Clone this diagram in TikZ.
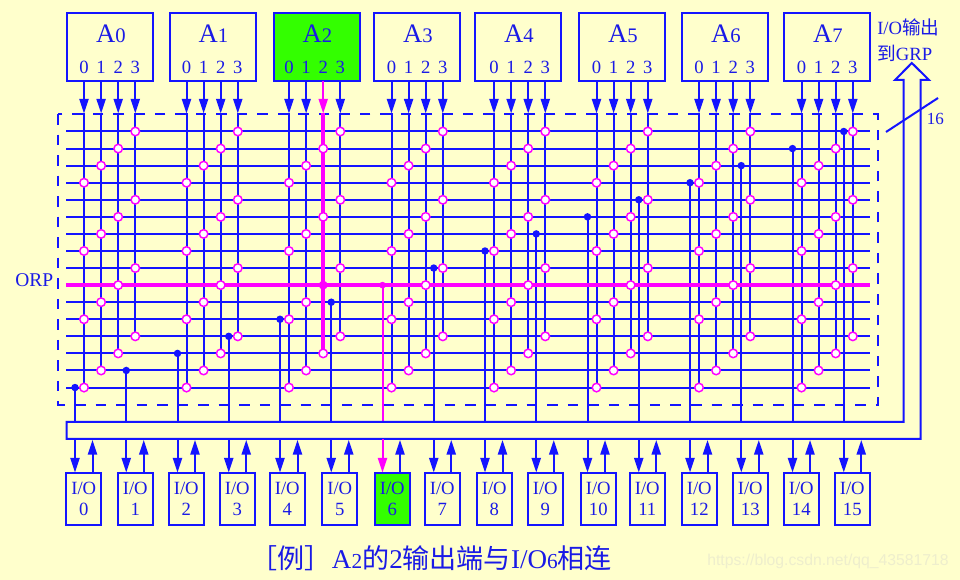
\documentclass[tikz,border=0pt]{standalone}
\usepackage{fontspec}
\setmainfont{Liberation Serif}
\newfontfamily\cjkfont{Noto Sans CJK SC}
\newfontfamily\markfont{Liberation Sans}
\usetikzlibrary{arrows.meta}
\pgfdeclarelayer{wires}
\pgfsetlayers{wires,main}
\definecolor{paper}{HTML}{FFFFCC}
\definecolor{wireblue}{HTML}{1414FF}
\definecolor{textblue}{HTML}{1A1AE6}
\definecolor{hot}{HTML}{FF00FF}
\definecolor{litgreen}{HTML}{33FF00}
\definecolor{markgrey}{HTML}{EEEECD}
\newcommand{\bigdig}[1]{{\fontsize{15.5}{17}\selectfont #1}}
\newcommand{\capdig}[1]{{\fontsize{16}{18}\selectfont #1}}
\tikzset{
  wire/.style={line width=1.5pt, color=wireblue},
  drop/.style={line width=1.5pt, color=wireblue},
  hotwire/.style={line width=3pt, color=hot},
  pin/.style={-{Triangle[length=11pt,width=6.8pt]}, line width=1.5pt, color=wireblue},
  abox/.style={draw=wireblue, line width=1.5pt, inner sep=0pt, minimum width=64.5pt, minimum height=51pt},
  iobox/.style={draw=wireblue, line width=1.5pt, inner sep=0pt, minimum width=25.9pt, minimum height=39pt,
    align=center, text=textblue, font=\fontsize{14}{15.5}\selectfont},
  label/.style={anchor=base, inner sep=0pt, text=textblue},
  fuse/.style={circle, draw=hot, fill=white, line width=1.1pt, inner sep=0pt, minimum size=6.4pt},
  tap/.style={circle, fill=wireblue, inner sep=0pt, minimum size=5.6pt},
  box2/.style={fill=litgreen},
  wire22/.style={hotwire},
  pin22/.style={color=hot},
  c222/.style={fill=hot, minimum size=5.5pt},
  iob6/.style={fill=litgreen},
  tap9/.style={fill=hot, minimum size=5pt},
  drop9/.style={color=hot},
  outpin6/.style={color=hot}
}
\begin{document}
\begin{tikzpicture}[x=0.75pt, y=-0.75pt]
\begin{pgfonlayer}{wires}
\fill[paper] (0,0) rectangle (960,580);
\draw[wire, dash pattern=on 7.9pt off 7.5pt] (58,114) rectangle (878,405);
\foreach \row in {0,...,15} {
  \pgfmathsetmacro\ry{131.5+17.07*\row}
  \coordinate (rl\row) at (66,\ry);
  \coordinate (rr\row) at (870,\ry);
  \draw[wire] (rl\row) -- (rr\row);
}
\end{pgfonlayer}

\foreach \grp/\bx in {0/67,1/169.5,2/273.5,3/374,4/475,5/579,6/682,7/784} {
  \pgfmathsetmacro\cx{\bx+44}
  \pgfmathsetmacro\bc{\bx+43}
  \node[abox, box\grp/.try] (A\grp) at (\bc,46.7) {};
  \node[label, font=\fontsize{20}{22}\selectfont] (name\grp) at (\cx,43) {A\bigdig{\grp}};
  \foreach \out in {0,...,3} {
    \pgfmathsetmacro\ox{84+102.5*\grp+17.1*\out}
    \coordinate (p\grp\out) at (\ox,81);
    \coordinate (t\grp\out) at (\ox,113.5);
    \node[label, font=\fontsize{14}{16}\selectfont] (n\grp\out) at (\ox,74) {\out};
    \foreach \k in {0,...,3} {
      \pgfmathtruncatemacro\row{3-\out+4*\k}
      \pgfmathsetmacro\ry{131.5+17.07*\row}
      \node[fuse, c\grp\out\k/.try] (c\grp\out\k) at (\ox,\ry) {};
    }
    \begin{pgfonlayer}{wires}
      \draw[wire, wire\grp\out/.try] (t\grp\out) -- (c\grp\out3.center);
    \end{pgfonlayer}
    \draw[pin, pin\grp\out/.try] (p\grp\out) -- (t\grp\out);
  }
}

\coordinate (busa) at (66.5,422);
\coordinate (busb) at (903.5,422);
\coordinate (busc) at (903.5,80);
\coordinate (busd) at (895,80);
\coordinate (buse) at (911.8,63);
\coordinate (busf) at (929,80);
\coordinate (busg) at (920.5,80);
\coordinate (bush) at (920.5,439);
\coordinate (busi) at (66.5,439);
\draw[wire] (busa) -- (busb) -- (busc) -- (busd) -- (buse) -- (busf) -- (busg) -- (bush) -- (busi) -- cycle;

\foreach \i/\bx in {0/66.5,1/118,2/169,3/220,4/270,5/322.5,6/375,7/425,8/477,9/528,10/581,11/630,12/682,13/733,14/784,15/835} {
  \pgfmathsetmacro\cx{\bx+17.25}
  \pgfmathsetmacro\dx{75+51.25*\i}
  \pgfmathsetmacro\ux{92.5+51.25*\i}
  \pgfmathtruncatemacro\row{15-\i}
  \pgfmathsetmacro\ry{131.5+17.07*\row}
  \node[iobox, iob\i/.try] (io\i) at (\cx,499) {I/O\\\i};
  \node[tap, tap\row/.try] (d\i) at (\dx,\ry) {};
  \coordinate (bt\i) at (\dx,422);
  \coordinate (bb\i) at (\dx,439.5);
  \coordinate (it\i) at (\dx,472.5);
  \coordinate (iu\i) at (\ux,473);
  \coordinate (ub\i) at (\ux,440);
  \begin{pgfonlayer}{wires}
    \draw[drop, drop\row/.try] (d\i.center) -- (bt\i);
  \end{pgfonlayer}
  \draw[pin, outpin\i/.try] (bb\i) -- (it\i);
  \draw[pin] (iu\i) -- (ub\i);
}

\begin{pgfonlayer}{wires}
\draw[hotwire] (rl9) -- (rr9);
\end{pgfonlayer}

\coordinate (sla) at (886,132);
\coordinate (slb) at (938,98);
\draw[drop] (sla) -- (slb);
\node[label, font=\fontsize{12.75}{14}\selectfont, anchor=base west] (width) at (926.5,125) {16};
\node[label, font=\fontsize{14.6}{16}\selectfont, anchor=base west] (orp) at (15,286.5) {ORP};
\node[label, font=\fontsize{14}{16}\selectfont, anchor=base west] (outa) at (877,35) {I/O{\cjkfont 输出}};
\node[label, font=\fontsize{14}{16}\selectfont, anchor=base west] (outb) at (877,61) {{\cjkfont 到}GRP};
\node[label, font=\fontsize{20.3}{22}\selectfont, anchor=base west] (caption) at (250.5,568)
  {{\cjkfont ［例］}A\capdig{2}{\cjkfont 的}2{\cjkfont 输出端与}I/O\capdig{6}{\cjkfont 相连}};
\node[label, anchor=base west, text=markgrey, font=\markfont\fontsize{11.8}{13}\selectfont] (mark) at (707,565)
  {https://blog.csdn.net/qq\_43581718};
\end{tikzpicture}
\end{document}
